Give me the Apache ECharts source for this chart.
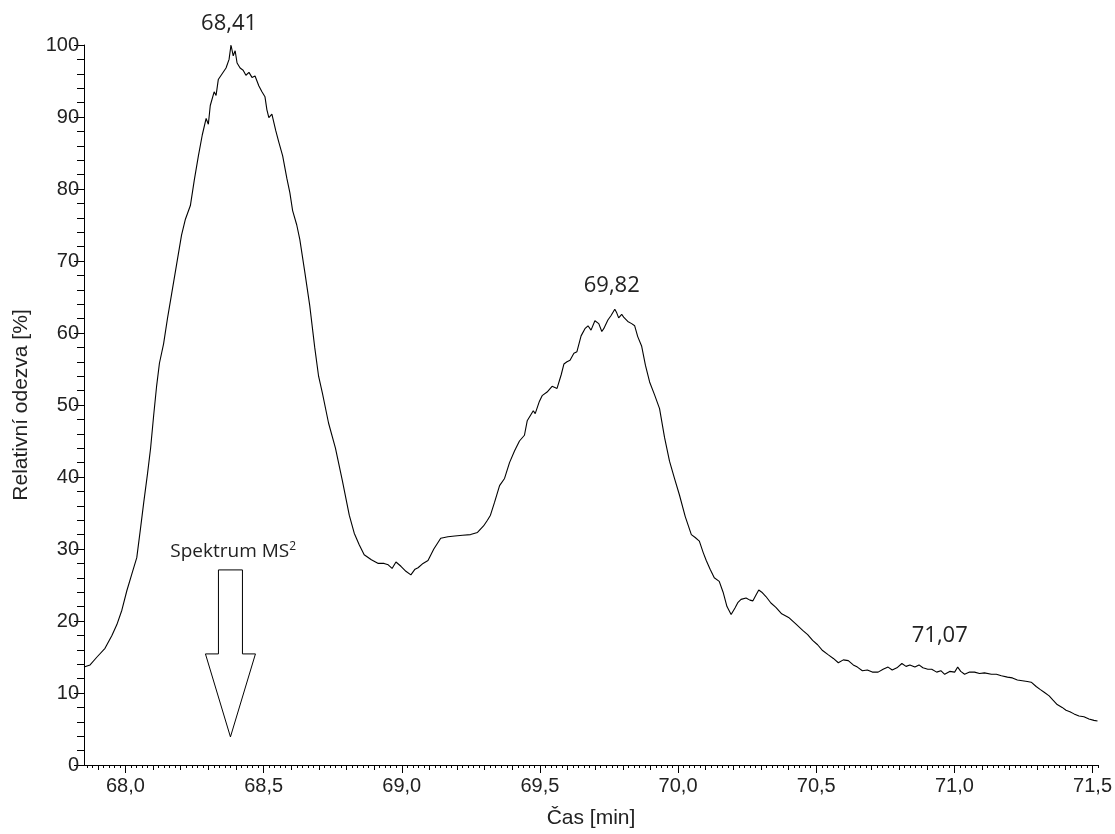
<!DOCTYPE html>
<html>
<head>
<meta charset="utf-8">
<title>Chromatogram</title>
<style>
  html, body { margin: 0; padding: 0; background: #fff; }
  #chart { width: 1115px; height: 834px; }
</style>
</head>
<body>
<div id="chart"></div>
<script src="https://cdn.jsdelivr.net/npm/echarts@6/dist/echarts.min.js"></script>
<script>
// retention time [min]
var times = [
  67.850, 67.872, 67.897, 67.926, 67.951, 67.969, 67.987, 68.005, 68.023, 68.041,
  68.055, 68.066, 68.080, 68.091, 68.102, 68.113, 68.123, 68.138, 68.152, 68.167,
  68.185, 68.203, 68.217, 68.235, 68.249, 68.264, 68.278, 68.292, 68.300, 68.307,
  68.321, 68.328, 68.336, 68.350, 68.364, 68.375, 68.382, 68.390, 68.397, 68.404,
  68.415, 68.426, 68.436, 68.447, 68.458, 68.469, 68.483, 68.494, 68.505, 68.512,
  68.519, 68.530, 68.544, 68.555, 68.569, 68.584, 68.595, 68.605, 68.620, 68.631,
  68.649, 68.667, 68.685, 68.699, 68.713, 68.735, 68.760, 68.785, 68.810, 68.828,
  68.846, 68.864, 68.890, 68.915, 68.936, 68.951, 68.965, 68.979, 68.997, 69.015,
  69.033, 69.048, 69.059, 69.077, 69.095, 69.116, 69.141, 69.167, 69.192, 69.220,
  69.249, 69.274, 69.296, 69.310, 69.321, 69.336, 69.354, 69.372, 69.390, 69.408,
  69.426, 69.444, 69.454, 69.465, 69.476, 69.483, 69.498, 69.508, 69.526, 69.544,
  69.562, 69.577, 69.587, 69.598, 69.609, 69.623, 69.634, 69.649, 69.663, 69.674,
  69.685, 69.699, 69.713, 69.724, 69.731, 69.746, 69.757, 69.764, 69.771, 69.778,
  69.785, 69.796, 69.803, 69.818, 69.832, 69.843, 69.854, 69.868, 69.882, 69.897,
  69.915, 69.933, 69.951, 69.969, 69.987, 70.005, 70.026, 70.048, 70.062, 70.077,
  70.091, 70.102, 70.116, 70.131, 70.149, 70.163, 70.177, 70.192, 70.206, 70.217,
  70.228, 70.246, 70.260, 70.271, 70.282, 70.292, 70.303, 70.318, 70.336, 70.354,
  70.375, 70.400, 70.426, 70.451, 70.469, 70.487, 70.505, 70.523, 70.544, 70.562,
  70.580, 70.598, 70.616, 70.634, 70.649, 70.667, 70.685, 70.703, 70.724, 70.742,
  70.760, 70.775, 70.792, 70.810, 70.825, 70.839, 70.857, 70.872, 70.886, 70.904,
  70.918, 70.936, 70.951, 70.965, 70.983, 71.001, 71.012, 71.023, 71.037, 71.055,
  71.073, 71.091, 71.109, 71.134, 71.152, 71.170, 71.192, 71.210, 71.228, 71.246,
  71.264, 71.278, 71.296, 71.310, 71.325, 71.343, 71.357, 71.372, 71.390, 71.404,
  71.418, 71.433, 71.451, 71.469, 71.487, 71.505, 71.518
];

// relative response [%]
var response = [
  13.6, 13.9, 15.0, 16.2, 18.0, 19.5, 21.5, 24.2, 26.5, 28.8,
  33.0, 36.4, 40.5, 44.0, 48.5, 52.7, 55.8, 58.5, 62.0, 65.4,
  69.5, 73.6, 75.8, 77.7, 81.2, 84.6, 87.5, 89.8, 89.0, 91.6,
  93.5, 93.0, 95.2, 96.0, 96.8, 98.0, 100.0, 98.5, 99.2, 97.5,
  96.8, 96.5, 95.8, 96.2, 95.5, 95.7, 94.3, 93.5, 92.8, 91.0,
  89.9, 90.4, 88.1, 86.5, 84.6, 81.5, 79.5, 77.0, 75.0, 73.0,
  68.5, 63.8, 58.0, 54.0, 51.6, 47.5, 44.0, 39.5, 34.7, 32.2,
  30.6, 29.2, 28.5, 28.0, 28.0, 27.8, 27.3, 28.2, 27.6, 26.9,
  26.4, 27.2, 27.4, 28.0, 28.4, 30.0, 31.5, 31.7, 31.8, 31.9,
  32.0, 32.3, 33.2, 34.0, 34.7, 36.5, 38.8, 39.8, 42.0, 43.6,
  45.0, 45.8, 47.8, 48.5, 49.2, 48.8, 50.5, 51.3, 51.8, 52.6,
  52.3, 54.2, 55.7, 56.0, 56.2, 57.2, 57.4, 59.6, 60.6, 61.0,
  60.4, 61.7, 61.3, 60.2, 60.6, 61.8, 62.4, 62.6, 63.3, 62.8,
  62.1, 62.6, 62.2, 61.6, 61.3, 61.0, 59.5, 58.2, 55.5, 53.2,
  51.4, 49.5, 45.5, 42.2, 39.8, 37.5, 34.5, 32.0, 31.6, 31.1,
  29.5, 28.4, 27.2, 26.0, 25.5, 24.0, 22.0, 20.9, 21.8, 22.6,
  23.0, 23.2, 22.9, 22.8, 23.6, 24.3, 24.0, 23.4, 22.5, 21.9,
  21.0, 20.5, 19.6, 18.7, 18.1, 17.3, 16.7, 15.9, 15.3, 14.8,
  14.2, 14.6, 14.5, 13.9, 13.6, 13.1, 13.2, 12.9, 12.9, 13.3,
  13.6, 13.2, 13.5, 14.1, 13.7, 13.9, 13.6, 13.9, 13.5, 13.3,
  13.3, 12.9, 13.1, 12.6, 13.0, 12.9, 13.6, 13.0, 12.6, 12.9,
  12.9, 12.7, 12.8, 12.6, 12.6, 12.4, 12.2, 12.1, 11.8, 11.7,
  11.6, 11.5, 10.9, 10.5, 10.1, 9.6, 9.0, 8.4, 8.0, 7.6,
  7.4, 7.1, 6.8, 6.7, 6.4, 6.2, 6.1
];

// labelled x ticks
var xMajorTicks = [68.0, 68.5, 69.0, 69.5, 70.0, 70.5, 71.0, 71.5];

// peak annotations: [time, response, text]
var peakLabels = [
  [68.375, 103.0, '68,41'],
  [69.760, 66.6, '69,82'],
  [70.947, 18.0, '71,07']
];

var xMin = 67.85, xMax = 71.52;

// medium (0.1) and small (0.02) ticks along the time axis
var xMidTicks = [], xSmallTicks = [];
for (var i = 679; i <= 715; i++) xMidTicks.push(i / 10);
for (var j = 3393; j <= 3576; j++) xSmallTicks.push(j / 50);

var chart = echarts.init(document.getElementById('chart'));

var points = times.map(function (t, k) { return [t, response[k]]; });

var axisFont = 'Liberation Sans, Arial, sans-serif';
var nameStyle = { fontFamily: axisFont, fontSize: 21, color: '#222' };

function tickAxis(vals, len) {
  return {
    type: 'value', min: xMin, max: xMax, position: 'bottom',
    axisLine: { show: false },
    axisTick: { show: true, customValues: vals, length: len, lineStyle: { color: '#000' } },
    axisLabel: { show: false },
    splitLine: { show: false }
  };
}

var option = {
  animation: false,
  backgroundColor: '#fff',
  grid: { left: 84, right: 15, top: 45, bottom: 66 },
  xAxis: [
    {
      type: 'value', min: xMin, max: xMax, position: 'bottom',
      name: 'Čas [min]', nameLocation: 'middle', nameGap: 43,
      nameTextStyle: nameStyle,
      axisLine: { show: true, lineStyle: { color: '#000', width: 1 } },
      axisTick: { show: true, customValues: xMajorTicks, length: 8, lineStyle: { color: '#000' } },
      axisLabel: {
        customValues: xMajorTicks, margin: 11,
        fontFamily: axisFont, fontSize: 20, color: '#222',
        formatter: function (v) { return v.toFixed(1).replace('.', ','); }
      },
      splitLine: { show: false }
    },
    tickAxis(xMidTicks, 5),
    tickAxis(xSmallTicks, 3)
  ],
  yAxis: {
    type: 'value', min: 0, max: 100, interval: 10,
    name: 'Relativní odezva [%]', nameLocation: 'middle', nameGap: 52, nameRotate: 90,
    nameTextStyle: nameStyle,
    axisLine: { show: true, lineStyle: { color: '#000', width: 1 } },
    axisTick: { show: true, length: 10, lineStyle: { color: '#000' } },
    minorTick: { show: true, splitNumber: 5, length: 7, lineStyle: { color: '#000' } },
    axisLabel: { margin: 5, fontFamily: axisFont, fontSize: 20, color: '#222' },
    splitLine: { show: false }
  },
  series: [{
    type: 'line',
    data: points,
    showSymbol: false,
    symbol: 'none',
    lineStyle: { color: '#000', width: 1.1 },
    clip: false
  }]
};

chart.setOption(option);

// annotations placed from data coordinates
var annoFont = '"Open Sans", "Noto Sans", sans-serif';
var graphics = peakLabels.map(function (p) {
  var px = chart.convertToPixel({ gridIndex: 0 }, [p[0], p[1]]);
  return {
    type: 'text', x: px[0], y: px[1],
    style: { text: p[2], font: '22px ' + annoFont, fill: '#222', textAlign: 'center', textVerticalAlign: 'middle' }
  };
});

var msPos = chart.convertToPixel({ gridIndex: 0 }, [68.39, 29.7]);
graphics.push({
  type: 'text', x: msPos[0], y: msPos[1],
  style: {
    text: 'Spektrum MS{sup|2}',
    font: '19px ' + annoFont, fill: '#222', textAlign: 'center', textVerticalAlign: 'middle',
    rich: { sup: { fontSize: 12, fontFamily: annoFont, verticalAlign: 'top', padding: [0, 0, 9, 0] } }
  }
});

var tip = chart.convertToPixel({ gridIndex: 0 }, [68.38, 3.9]);
var tx = tip[0], ty = tip[1];
graphics.push({
  type: 'polygon',
  shape: {
    points: [
      [tx - 12, ty - 167], [tx + 12, ty - 167], [tx + 12, ty - 83], [tx + 25, ty - 83],
      [tx, ty], [tx - 25, ty - 83], [tx - 12, ty - 83]
    ]
  },
  style: { fill: '#fff', stroke: '#000', lineWidth: 1 }
});

chart.setOption({ graphic: graphics });
</script>
</body>
</html>
